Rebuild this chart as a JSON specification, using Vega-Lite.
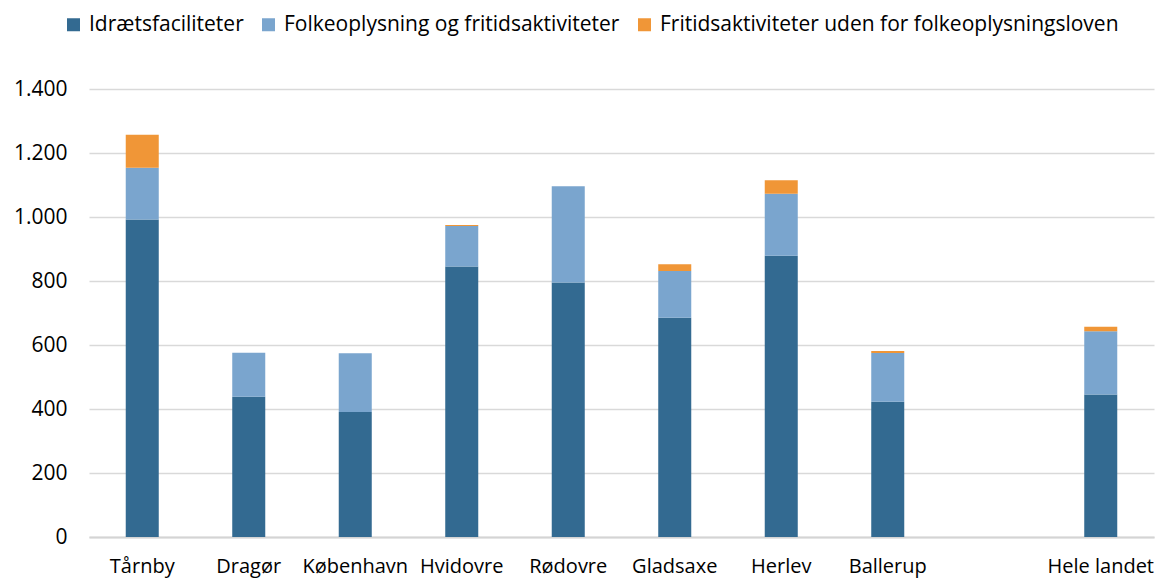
{
  "$schema": "https://vega.github.io/schema/vega-lite/v6.json",
  "width": 1065,
  "height": 448,
  "autosize": {"type": "none"},
  "padding": {"left": 89, "top": 89, "right": 2, "bottom": 43},
  "background": "white",
  "config": {
    "font": "Open Sans",
    "view": {"stroke": null},
    "axis": {"labelFont": "Open Sans", "labelColor": "#000000"},
    "legend": {"labelFont": "Open Sans"}
  },
  "data": {
    "values": [
      {"kommune": "Tårnby", "kategori": "Idrætsfaciliteter", "rk": 1, "vaerdi": 992},
      {"kommune": "Tårnby", "kategori": "Folkeoplysning og fritidsaktiviteter", "rk": 2, "vaerdi": 162},
      {"kommune": "Tårnby", "kategori": "Fritidsaktiviteter uden for folkeoplysningsloven", "rk": 3, "vaerdi": 103},
      {"kommune": "Dragør", "kategori": "Idrætsfaciliteter", "rk": 1, "vaerdi": 438},
      {"kommune": "Dragør", "kategori": "Folkeoplysning og fritidsaktiviteter", "rk": 2, "vaerdi": 138},
      {"kommune": "Dragør", "kategori": "Fritidsaktiviteter uden for folkeoplysningsloven", "rk": 3, "vaerdi": 0},
      {"kommune": "København", "kategori": "Idrætsfaciliteter", "rk": 1, "vaerdi": 391},
      {"kommune": "København", "kategori": "Folkeoplysning og fritidsaktiviteter", "rk": 2, "vaerdi": 183},
      {"kommune": "København", "kategori": "Fritidsaktiviteter uden for folkeoplysningsloven", "rk": 3, "vaerdi": 0},
      {"kommune": "Hvidovre", "kategori": "Idrætsfaciliteter", "rk": 1, "vaerdi": 845},
      {"kommune": "Hvidovre", "kategori": "Folkeoplysning og fritidsaktiviteter", "rk": 2, "vaerdi": 127},
      {"kommune": "Hvidovre", "kategori": "Fritidsaktiviteter uden for folkeoplysningsloven", "rk": 3, "vaerdi": 3},
      {"kommune": "Rødovre", "kategori": "Idrætsfaciliteter", "rk": 1, "vaerdi": 795},
      {"kommune": "Rødovre", "kategori": "Folkeoplysning og fritidsaktiviteter", "rk": 2, "vaerdi": 301},
      {"kommune": "Rødovre", "kategori": "Fritidsaktiviteter uden for folkeoplysningsloven", "rk": 3, "vaerdi": 0},
      {"kommune": "Gladsaxe", "kategori": "Idrætsfaciliteter", "rk": 1, "vaerdi": 685},
      {"kommune": "Gladsaxe", "kategori": "Folkeoplysning og fritidsaktiviteter", "rk": 2, "vaerdi": 146},
      {"kommune": "Gladsaxe", "kategori": "Fritidsaktiviteter uden for folkeoplysningsloven", "rk": 3, "vaerdi": 21},
      {"kommune": "Herlev", "kategori": "Idrætsfaciliteter", "rk": 1, "vaerdi": 879},
      {"kommune": "Herlev", "kategori": "Folkeoplysning og fritidsaktiviteter", "rk": 2, "vaerdi": 194},
      {"kommune": "Herlev", "kategori": "Fritidsaktiviteter uden for folkeoplysningsloven", "rk": 3, "vaerdi": 42},
      {"kommune": "Ballerup", "kategori": "Idrætsfaciliteter", "rk": 1, "vaerdi": 423},
      {"kommune": "Ballerup", "kategori": "Folkeoplysning og fritidsaktiviteter", "rk": 2, "vaerdi": 152},
      {"kommune": "Ballerup", "kategori": "Fritidsaktiviteter uden for folkeoplysningsloven", "rk": 3, "vaerdi": 6},
      {"kommune": "Hele landet", "kategori": "Idrætsfaciliteter", "rk": 1, "vaerdi": 445},
      {"kommune": "Hele landet", "kategori": "Folkeoplysning og fritidsaktiviteter", "rk": 2, "vaerdi": 198},
      {"kommune": "Hele landet", "kategori": "Fritidsaktiviteter uden for folkeoplysningsloven", "rk": 3, "vaerdi": 14}
    ]
  },
  "mark": {"type": "bar"},
  "encoding": {
    "x": {
      "field": "kommune",
      "type": "nominal",
      "sort": null,
      "scale": {
        "domain": ["Tårnby", "Dragør", "København", "Hvidovre", "Rødovre", "Gladsaxe", "Herlev", "Ballerup", " ", "Hele landet"],
        "paddingInner": 0.69,
        "paddingOuter": 0.345
      },
      "axis": {
        "title": null,
        "labelAngle": 0,
        "labelFontSize": 20,
        "labelPadding": 19,
        "ticks": false,
        "domainColor": "#d4d4d4",
        "domainWidth": 2,
        "grid": false
      }
    },
    "y": {
      "field": "vaerdi",
      "type": "quantitative",
      "stack": "zero",
      "scale": {"domain": [0, 1400], "nice": false},
      "axis": {
        "title": null,
        "values": [0, 200, 400, 600, 800, 1000, 1200, 1400],
        "labelExpr": "replace(format(datum.value, ','), ',', '.')",
        "labelFontSize": 21,
        "labelPadding": 22,
        "ticks": false,
        "domain": false,
        "gridColor": "#d9d9d9",
        "gridWidth": 1.5
      }
    },
    "color": {
      "field": "kategori",
      "type": "nominal",
      "scale": {
        "domain": ["Idrætsfaciliteter", "Folkeoplysning og fritidsaktiviteter", "Fritidsaktiviteter uden for folkeoplysningsloven"],
        "range": ["#336A91", "#7AA5CE", "#F09637"]
      },
      "legend": {
        "title": null,
        "orient": "none",
        "legendX": -26,
        "legendY": -75,
        "direction": "horizontal",
        "symbolType": "square",
        "symbolSize": 169,
        "symbolStrokeWidth": 0,
        "labelFontSize": 21,
        "labelColor": "#000000",
        "labelOffset": 5,
        "columnPadding": 14,
        "labelLimit": 600
      }
    },
    "order": {"field": "rk", "type": "quantitative"}
  }
}
